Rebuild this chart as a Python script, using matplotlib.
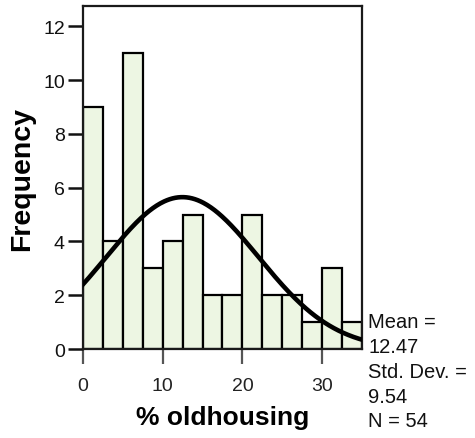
import numpy as np
import matplotlib
matplotlib.use('Agg')
import matplotlib.pyplot as plt

# histogram of % oldhousing, bins of width 2.5
bin_left = [0, 2.5, 5, 7.5, 10, 12.5, 15, 17.5, 20, 22.5, 25, 27.5, 30, 32.5]
counts = [9, 4, 11, 3, 4, 5, 2, 2, 5, 2, 2, 1, 3, 1]
bin_width = 2.5

mean = 12.47
std = 9.54
n = 54
stats_lines = ['Mean =', '12.47', 'Std. Dev. =', '9.54', 'N = 54']

plt.rcParams['font.family'] = ['Liberation Sans', 'DejaVu Sans']

fig = plt.figure(figsize=(4.75, 4.39), dpi=100)
ax = fig.add_axes([0.1747, 0.2027, 0.762 - 0.1747, 0.984 - 0.2027])

ax.bar(bin_left, counts, width=bin_width, align='edge', color='#edf6e3',
       edgecolor='black', linewidth=1.6, zorder=2)

# normal curve scaled to counts
xs = np.linspace(0, 35, 300)
ys = n * bin_width / (std * np.sqrt(2 * np.pi)) * np.exp(-0.5 * ((xs - mean) / std) ** 2)
ax.plot(xs, ys, color='black', linewidth=3.3, zorder=3)

ax.set_xlim(0, 35)
ax.set_ylim(0, 12.75)
ax.set_xticks([0, 10, 20, 30])
ax.set_yticks([0, 2, 4, 6, 8, 10, 12])
ax.tick_params(axis='y', length=11, width=1.8, colors='#111111', labelsize=14, pad=2)
ax.tick_params(axis='x', length=11, width=1.6, colors='#555555', labelsize=14, pad=9,
               labelcolor='#222222')

for s in ax.spines.values():
    s.set_linewidth(1.6)
    s.set_color('#1a1a1a')

ax.set_xlabel('% oldhousing', fontsize=19, fontweight='bold', labelpad=8)
ax.set_ylabel('Frequency', fontsize=20.5, fontweight='bold', labelpad=6)

# stats text to the right of the plot
y0 = 323
for i, line in enumerate(stats_lines):
    fig.text(368 / 475, 1 - (y0 + i * 24.7) / 439, line, fontsize=14.5,
             ha='left', va='center', color='#111111')

fig.savefig('out.png', dpi=100)
